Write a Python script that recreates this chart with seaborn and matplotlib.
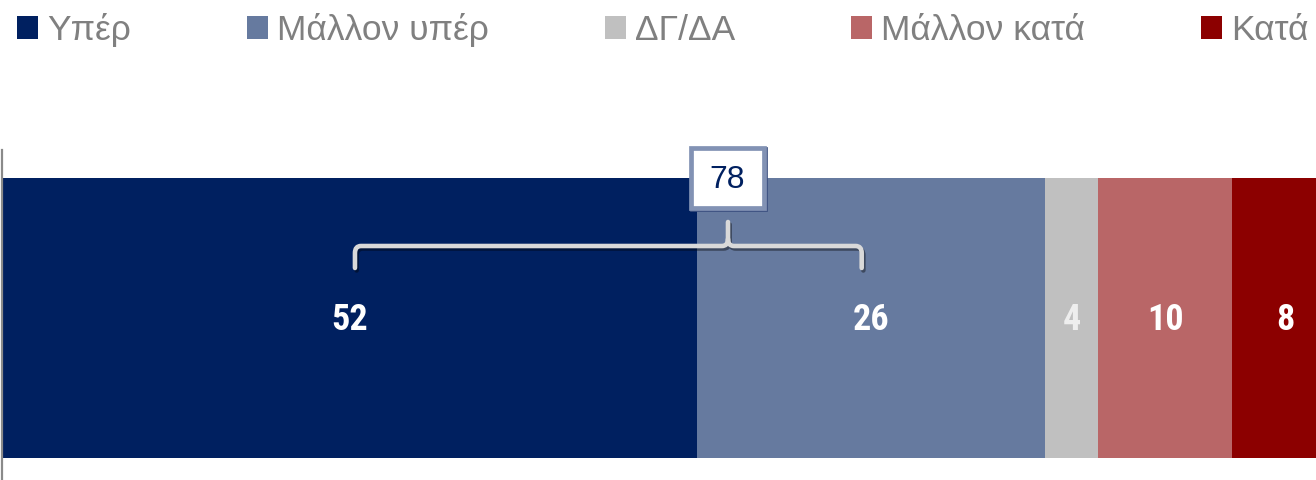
import numpy as np
import pandas as pd
import seaborn as sns
import matplotlib
matplotlib.use("Agg")
import matplotlib.pyplot as plt
from matplotlib import font_manager
from matplotlib.patches import Patch, Rectangle, PathPatch
from matplotlib.path import Path
import matplotlib.patheffects as pe

# Survey answers (percent)
categories = ["Υπέρ", "Μάλλον υπέρ", "ΔΓ/ΔΑ", "Μάλλον κατά", "Κατά"]
values = [52, 26, 4, 10, 8]
colors = ["#002060", "#667a9f", "#c0c0c0", "#b96667", "#8c0000"]
label_colors = ["white", "white", "#eeeeee", "white", "white"]

sns.set_theme(style="white")
plt.rcParams["font.family"] = ["Liberation Sans", "DejaVu Sans"]

# prefer a narrow face for the value labels
installed = {f.name for f in font_manager.fontManager.ttflist}
narrow = [n for n in ["Liberation Sans Narrow", "Arial Narrow", "Roboto Condensed",
                      "Open Sans Condensed", "DejaVu Sans Condensed"] if n in installed]
if narrow:
    label_font, label_size = narrow[0], 26
else:
    label_font, label_size = "Liberation Sans", 23

fig = plt.figure(figsize=(13.16, 4.8), dpi=100)
W, H = 1316, 480
ax = fig.add_axes([2 / W, (H - 486) / H, 1337 / W, 336 / H])

df = pd.DataFrame({"cat": categories, "value": values, "color": colors})
df["end"] = np.cumsum(df["value"])
df["start"] = df["end"] - df["value"]

# stacked bar: draw cumulative totals from the longest to the shortest
for i in range(len(df) - 1, -1, -1):
    sns.barplot(x=[df["end"][i]], y=[0], orient="h", color=df["color"][i],
                saturation=1, width=0.8, ax=ax, linewidth=0, native_scale=True)

ax.set_xlim(0, 100)
ax.set_ylim(0.48, -0.48)
ax.set_xticks([])
ax.set_yticks([])
ax.set_xlabel("")
ax.set_ylabel("")
for s in ["top", "right", "bottom"]:
    ax.spines[s].set_visible(False)
ax.spines["left"].set_color("#8a8a8a")
ax.spines["left"].set_linewidth(1.6)

# value labels
for i, row in df.iterrows():
    ax.text((row["start"] + row["end"]) / 2, 0.005, f"{row['value']}",
            ha="center", va="center", color=label_colors[i],
            fontsize=label_size, fontweight="bold", family=[label_font, "DejaVu Sans"])

# brace over the two favourable answers
xl, xr, xt = 26.4, 64.3, 54.3
yh, yl, yt = -0.2057, -0.1429, -0.2743
rx, ry = 0.45, 0.02
verts = [
    (xl, yl), (xl, yh + ry), (xl, yh), (xl + rx, yh),
    (xt - rx, yh), (xt, yh), (xt, yh - ry), (xt, yt),
    (xt, yh - ry), (xt, yh), (xt + rx, yh),
    (xr - rx, yh), (xr, yh), (xr, yh + ry), (xr, yl),
]
codes = [Path.MOVETO, Path.LINETO, Path.CURVE3, Path.CURVE3,
         Path.LINETO, Path.CURVE3, Path.CURVE3, Path.LINETO,
         Path.MOVETO, Path.CURVE3, Path.CURVE3,
         Path.LINETO, Path.CURVE3, Path.CURVE3, Path.LINETO]
brace = PathPatch(Path(verts, codes), facecolor="none", edgecolor="#d9d9d9",
                  linewidth=3.3, capstyle="round", joinstyle="round",
                  path_effects=[pe.SimpleLineShadow(offset=(1.2, -1.8), shadow_color="black", alpha=0.4),
                                pe.Normal()])
ax.add_patch(brace)

# total box
total = values[0] + values[1]
bx0, bx1 = 51.5, 56.96
by0, by1 = -0.487, -0.3157
ax.add_patch(Rectangle((bx0 + 0.09, by0 + 0.004), bx1 - bx0, by1 - by0,
                       facecolor="none", edgecolor="#3c5080", linewidth=3.4,
                       clip_on=False, zorder=4))
ax.add_patch(Rectangle((bx0, by0), bx1 - bx0, by1 - by0,
                       facecolor="white", edgecolor="#8292b4", linewidth=3.4,
                       clip_on=False, zorder=5))
ax.text((bx0 + bx1) / 2, (by0 + by1) / 2 + 0.006, f"{total}", ha="center", va="center",
        color="#002060", fontsize=23, zorder=6, clip_on=False)

# legend across the top
fs = 25.5
fs_px = fs * 100 / 72
handles = [Patch(facecolor=c, edgecolor="none") for c in colors]
fig.legend(handles, categories, loc="upper left", bbox_to_anchor=(17 / W, 1 - 13 / H),
           ncol=5, frameon=False, fontsize=fs, labelcolor="#808080",
           handlelength=21 / fs_px, handleheight=21 / fs_px, handletextpad=9 / fs_px,
           columnspacing=116 / fs_px, borderpad=0, borderaxespad=0)

fig.savefig("out.png", dpi=100)
